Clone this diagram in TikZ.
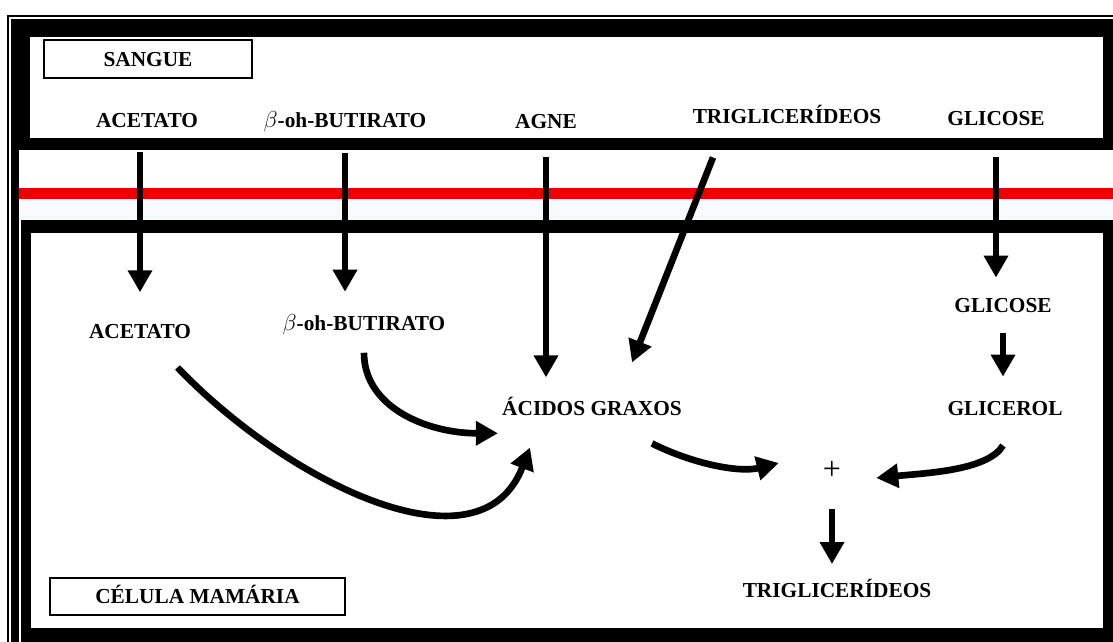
\documentclass[tikz,border=0pt]{standalone}
\usepackage{fontspec}
\setmainfont{Liberation Serif}
\usetikzlibrary{arrows.meta}

\definecolor{membrane}{RGB}{238,0,0}
\definecolor{lightband}{RGB}{246,250,255}

\tikzstyle{metab} = [font=\fontsize{16}{19}\selectfont\bfseries, inner sep=0pt, anchor=base]
\tikzstyle{region} = [draw, line width=1.2pt, font=\fontsize{16}{19}\selectfont\bfseries, inner sep=0pt, text height=11pt, text depth=0pt]
\tikzstyle{flow} = [line width=5pt, -{Triangle[width=17.5pt,length=16.5pt]}]

\begin{document}
\begin{tikzpicture}[x=0.75pt, y=-0.75pt]
	\useasboundingbox (0,0) rectangle (1113,642);
	\clip (0,0) rectangle (1113,642);

	% frames and membrane
	\fill[white] (0,0) rectangle (1113,642);
	\draw[line width=1.5pt] (8,16) rectangle (1130,660);
	\fill[black] (11,19) rectangle (1113,642);
	\fill[white] (30,37) rectangle (1103,138);
	\fill[white] (19,150) rectangle (1113,220);
	\fill[lightband] (19,199) rectangle (1113,220);
	\fill[membrane] (19,188) rectangle (1113,199);
	\fill[white] (31,233) rectangle (1103,628);
	\draw[white, line width=1pt] (20,220) -- (20,642);

	\node [region, minimum width=156pt, minimum height=28.5pt] (sangue) at (148,59) {SANGUE};
	\node [region, minimum width=221pt, minimum height=27.75pt] (celula) at (197.5,596.5) {CÉLULA MAMÁRIA};

	\node [metab] (acetatoS) at (147,127) {ACETATO};
	\node [metab] (butiratoS) at (345,127) {$\beta$-oh-BUTIRATO};
	\node [metab] (agne) at (546,128) {AGNE};
	\node [metab] (trigS) at (787,123) {TRIGLICERÍDEOS};
	\node [metab] (glicoseS) at (996,125) {GLICOSE};

	\node [metab] (acetatoC) at (140,338) {ACETATO};
	\node [metab] (butiratoC) at (364,330) {$\beta$-oh-BUTIRATO};
	\node [metab] (acidos) at (592,415) {ÁCIDOS GRAXOS};
	\node [metab] (glicoseC) at (1003,312) {GLICOSE};
	\node [metab] (glicerol) at (1005,415) {GLICEROL};
	\node [font=\fontsize{24}{28}\selectfont, inner sep=0pt] (plus) at (832,470) {+};
	\node [metab] (trigC) at (837,597) {TRIGLICERÍDEOS};

	\draw [flow, shorten <=18.75pt, shorten >=23.5pt] (acetatoS.south -| acetatoC.north) -- (acetatoC.north);
	\draw [flow, shorten <=15.75pt, shorten >=16.5pt] (butiratoS.south) -- (butiratoS.south |- butiratoC.north);
	\draw [flow, shorten <=21.75pt, shorten >=14.25pt] (agne.south) -- (agne.south |- acidos.north);
	\draw [flow] ([xshift=-55.5pt,yshift=-25.5pt]trigS.south) -- ([xshift=30pt,yshift=25.5pt]acidos.north);
	\draw [flow, shorten <=24pt, shorten >=15pt] (glicoseS.south) -- (glicoseS.south |- glicoseC.north);
	\draw [flow, shorten <=15.75pt, shorten >=18pt] (glicoseC.south) -- (glicoseC.south |- glicerol.north);

	\draw [flow] ([yshift=-13.5pt]butiratoC.south) .. controls +(0,55) and +(-70,0) .. ([xshift=-3pt,yshift=-20.5pt]acidos.west);
	\draw [flow] ([xshift=-10.3pt,yshift=-21.75pt]acetatoC.south east) .. controls +(110,115) and +(-50,130) .. ([xshift=-46.5pt,yshift=-24pt]acidos.south);
	\draw [flow] ([xshift=45pt,yshift=-21pt]acidos.south) .. controls +(40,20) and +(-40,10) .. ([xshift=-33pt,yshift=5.25pt]plus.west);
	\draw [flow] ([xshift=-1.5pt,yshift=-22.5pt]glicerol.south) .. controls +(-15,25) and +(50,-5) .. ([xshift=26.25pt,yshift=-6pt]plus.east);
	\draw [flow, shorten <=22.5pt, shorten >=10.8pt] (plus.south) -- (plus.south |- trigC.north);

\end{tikzpicture}
\end{document}
